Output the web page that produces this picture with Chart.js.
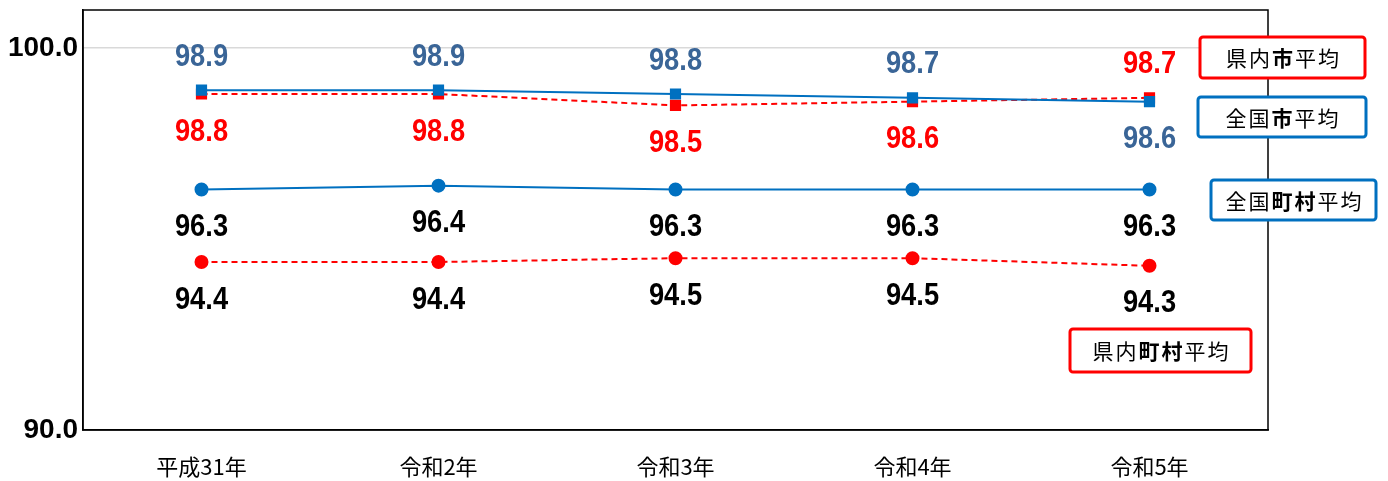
<!DOCTYPE html>
<html>
<head>
<meta charset="utf-8">
<script src="https://cdn.jsdelivr.net/npm/chart.js@4.4.1/dist/chart.umd.min.js"></script>
<style>
  html, body { margin: 0; padding: 0; background: #fff; }
  #wrap { width: 1388px; height: 481px; }
</style>
</head>
<body>
<div id="wrap"><canvas id="rateChart"></canvas></div>
<script>
const years = ['平成31年', '令和2年', '令和3年', '令和4年', '令和5年'];
const zenkokuShi = [98.9, 98.9, 98.8, 98.7, 98.6];
const kennaiShi = [98.8, 98.8, 98.5, 98.6, 98.7];
const zenkokuChoson = [96.3, 96.4, 96.3, 96.3, 96.3];
const kennaiChoson = [94.4, 94.4, 94.5, 94.5, 94.3];
const yTicks = [90, 100];

const BLUE = '#0070C0';
const RED = '#FF0000';
const NUM_FONT = '"Liberation Sans", Arial, sans-serif';
const JP_FONT = '"Noto Sans CJK JP", sans-serif';

// legend boxes: [parts(text, bold)], colour, position relative to chart area
const legendBoxes = [
    { parts: [['県内', false], ['市', true], ['平均', false]], color: RED, dx: -68, y: 37, w: 165, h: 41 },
    { parts: [['全国', false], ['市', true], ['平均', false]], color: BLUE, dx: -70, y: 97, w: 168, h: 40 },
    { parts: [['全国', false], ['町村', true], ['平均', false]], color: BLUE, dx: -57, y: 180, w: 165, h: 40 },
    { parts: [['県内', false], ['町村', true], ['平均', false]], color: RED, dx: -198, y: 329, w: 181, h: 43 }
];

function roundRect(ctx, x, y, w, h, r) {
    ctx.beginPath();
    ctx.moveTo(x + r, y);
    ctx.arcTo(x + w, y, x + w, y + h, r);
    ctx.arcTo(x + w, y + h, x, y + h, r);
    ctx.arcTo(x, y + h, x, y, r);
    ctx.arcTo(x, y, x + w, y, r);
    ctx.closePath();
}

const overlay = {
    id: 'overlay',
    afterDatasetsDraw(chart) {
        const ctx = chart.ctx;
        const a = chart.chartArea;
        // frame round plot area
        ctx.save();
        ctx.strokeStyle = '#000';
        ctx.lineWidth = 1.5;
        ctx.strokeRect(a.left, a.top, a.right - a.left, a.bottom - a.top);
        ctx.restore();

        // value labels (slightly condensed)
        const sx = 0.88;
        chart.data.datasets.forEach((ds, di) => {
            const meta = chart.getDatasetMeta(di);
            meta.data.forEach((pt, i) => {
                let off = 38;
                if (ds.pair !== undefined) {
                    const other = chart.data.datasets[ds.pair].data[i];
                    if (ds.data[i] > other) off = -33;
                }
                ctx.save();
                ctx.translate(pt.x, pt.y + off);
                ctx.scale(sx, 1);
                ctx.textAlign = 'center';
                ctx.textBaseline = 'middle';
                ctx.font = 'bold 31px ' + NUM_FONT;
                ctx.fillStyle = ds.labelColor;
                ctx.fillText(ds.data[i].toFixed(1), 0, 0);
                ctx.restore();
            });
        });
    },
    afterDraw(chart) {
        const ctx = chart.ctx;
        const a = chart.chartArea;
        ctx.save();
        ctx.textBaseline = 'middle';
        legendBoxes.forEach(b => {
            const x = a.right + b.dx;
            ctx.fillStyle = '#fff';
            ctx.strokeStyle = b.color;
            ctx.lineWidth = 3;
            roundRect(ctx, x, b.y, b.w, b.h, 3);
            ctx.fill();
            ctx.stroke();
            const spacing = 2;
            let total = 0;
            b.parts.forEach(([t, bold]) => {
                ctx.font = (bold ? 'bold ' : '') + '21px ' + JP_FONT;
                for (const ch of t) total += ctx.measureText(ch).width + spacing;
            });
            total -= spacing;
            let cx = x + (b.w - total) / 2;
            ctx.fillStyle = '#000';
            b.parts.forEach(([t, bold]) => {
                ctx.font = (bold ? 'bold ' : '') + '21px ' + JP_FONT;
                for (const ch of t) {
                    ctx.fillText(ch, cx, b.y + b.h / 2 + 1);
                    cx += ctx.measureText(ch).width + spacing;
                }
            });
        });
        ctx.restore();
    }
};

const ctx = document.getElementById('rateChart').getContext('2d');
new Chart(ctx, {
    type: 'line',
    data: {
        labels: years,
        datasets: [
            {
                label: '全国市平均', data: zenkokuShi, pair: 1, labelColor: '#3A6597',
                borderColor: BLUE, backgroundColor: BLUE, borderWidth: 2,
                pointStyle: 'rect', pointRadius: 6.5, pointHoverRadius: 6.5
            },
            {
                label: '県内市平均', data: kennaiShi, pair: 0, labelColor: RED,
                borderColor: RED, backgroundColor: RED, borderWidth: 2, borderDash: [6, 4],
                pointStyle: 'rect', pointRadius: 6.5, pointHoverRadius: 6.5
            },
            {
                label: '全国町村平均', data: zenkokuChoson, labelColor: '#000',
                borderColor: BLUE, backgroundColor: BLUE, borderWidth: 2,
                pointStyle: 'circle', pointRadius: 6, pointHoverRadius: 6
            },
            {
                label: '県内町村平均', data: kennaiChoson, labelColor: '#000',
                borderColor: RED, backgroundColor: RED, borderWidth: 2, borderDash: [6, 4],
                pointStyle: 'circle', pointRadius: 6, pointHoverRadius: 6
            }
        ]
    },
    options: {
        responsive: true,
        maintainAspectRatio: false,
        animation: false,
        layout: { padding: { top: 10, right: 120, left: 0, bottom: 0 } },
        plugins: {
            legend: { display: false },
            tooltip: { enabled: false }
        },
        scales: {
            x: {
                offset: true,
                grid: { display: false },
                border: { display: true, color: '#000', width: 1.5 },
                ticks: {
                    color: '#000',
                    padding: 15,
                    font: { family: JP_FONT, size: 22 }
                },
                afterFit(scale) {
                    scale.height = 51;
                    scale.paddingLeft = 0;
                    scale.paddingRight = 0;
                }
            },
            y: {
                min: 90,
                max: 101,
                afterBuildTicks(scale) { scale.ticks = yTicks.map(v => ({ value: v })); },
                grid: {
                    drawTicks: false,
                    lineWidth: 1.5,
                    color: c => (c.tick && c.tick.value === 100 ? '#d9d9d9' : 'rgba(0,0,0,0)')
                },
                border: { display: true, color: '#000', width: 1.5 },
                ticks: {
                    color: '#000',
                    padding: 5,
                    font: { family: NUM_FONT, size: 28, weight: 'bold' },
                    callback: v => Number(v).toFixed(1)
                },
                afterFit(scale) {
                    scale.width = 83;
                    scale.paddingTop = 0;
                    scale.paddingBottom = 0;
                }
            }
        }
    },
    plugins: [overlay]
});
</script>
</body>
</html>
